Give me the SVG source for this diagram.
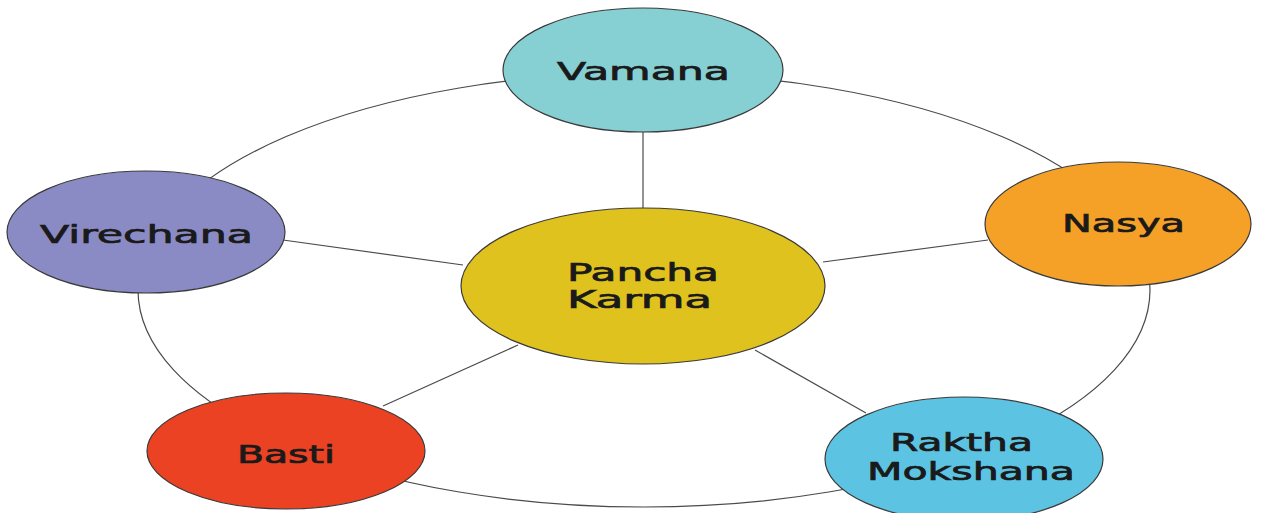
<svg xmlns="http://www.w3.org/2000/svg" width="1269" height="513" viewBox="0 0 1269 513">
<style>
.node{stroke:#3a3a3a;stroke-width:1.2}
.lbl{font-family:"DejaVu Sans",Verdana,sans-serif;font-size:24px;fill:#1a1a1a;stroke:#1a1a1a;stroke-width:0.7;text-anchor:start}
.conn{fill:none;stroke:#4a4a4a;stroke-width:1.2}
</style>
<rect width="1269" height="513" fill="#ffffff"/>
<g id="connectors">
<ellipse class="conn" cx="644" cy="290" rx="506" ry="217"/>
<line class="conn" x1="643" y1="130" x2="643" y2="210"/>
<line class="conn" x1="283" y1="240" x2="463" y2="265"/>
<line class="conn" x1="823" y1="262" x2="988" y2="240"/>
<line class="conn" x1="518" y1="345" x2="383" y2="406"/>
<line class="conn" x1="755" y1="350" x2="866" y2="413"/>
</g>
<g id="vamana">
<ellipse class="node" cx="643" cy="70" rx="140" ry="62" fill="#86d0d4"/>
<text class="lbl" x="557" y="80" textLength="173" lengthAdjust="spacingAndGlyphs">Vamana</text>
</g>
<g id="virechana">
<ellipse class="node" cx="146" cy="232" rx="139" ry="61" fill="#8a8bc5"/>
<text class="lbl" x="40" y="243" textLength="213" lengthAdjust="spacingAndGlyphs">Virechana</text>
</g>
<g id="nasya">
<ellipse class="node" cx="1118" cy="224" rx="133" ry="62" fill="#f5a027"/>
<text class="lbl" x="1062" y="232" textLength="123" lengthAdjust="spacingAndGlyphs">Nasya</text>
</g>
<g id="pancha-karma">
<ellipse class="node" cx="643" cy="286" rx="182" ry="78" fill="#e0c21e"/>
<text class="lbl" x="567" y="281" textLength="152" lengthAdjust="spacingAndGlyphs">Pancha</text>
<text class="lbl" x="567" y="308" textLength="145" lengthAdjust="spacingAndGlyphs">Karma</text>
</g>
<g id="basti">
<ellipse class="node" cx="286" cy="451" rx="139" ry="58" fill="#ea4223"/>
<text class="lbl" x="237" y="463" textLength="98" lengthAdjust="spacingAndGlyphs">Basti</text>
</g>
<g id="raktha-mokshana">
<ellipse class="node" cx="964" cy="459" rx="139" ry="62" fill="#5cc4e2"/>
<text class="lbl" x="890" y="451" textLength="143" lengthAdjust="spacingAndGlyphs">Raktha</text>
<text class="lbl" x="867" y="480" textLength="208" lengthAdjust="spacingAndGlyphs">Mokshana</text>
</g>
</svg>
